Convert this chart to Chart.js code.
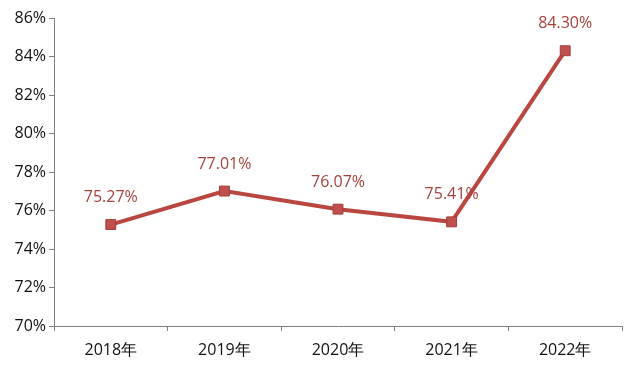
<!DOCTYPE html>
<html>
<head>
<meta charset="utf-8">
<script src="https://cdn.jsdelivr.net/npm/chart.js@4/dist/chart.umd.min.js"></script>
<style>
  html, body { margin: 0; padding: 0; background: #fff; }
  #wrap { width: 640px; height: 374px; }
</style>
</head>
<body>
<div id="wrap"><canvas id="c"></canvas></div>
<script>
const years = ['2018年', '2019年', '2020年', '2021年', '2022年'];
const rates = [75.27, 77.01, 76.07, 75.41, 84.30];
const yMin = 70, yMax = 86, yStep = 2;

// draw the value above each point
const valueLabels = {
  id: 'valueLabels',
  afterDatasetsDraw(chart) {
    const ctx = chart.ctx;
    const meta = chart.getDatasetMeta(0);
    ctx.save();
    ctx.font = '16px "Open Sans", "Liberation Sans", sans-serif';
    ctx.fillStyle = '#a8403c';
    ctx.textAlign = 'center';
    ctx.textBaseline = 'middle';
    meta.data.forEach((pt, i) => {
      ctx.fillText(rates[i].toFixed(2) + '%', pt.x, pt.y - 27);
    });
    ctx.restore();
  }
};

new Chart(document.getElementById('c'), {
  type: 'line',
  data: {
    labels: years,
    datasets: [{
      data: rates,
      borderColor: '#b9473f',
      borderWidth: 4,
      pointStyle: 'rect',
      pointRadius: 7,
      pointBackgroundColor: '#c0504d',
      pointBorderColor: '#a23e3a',
      pointBorderWidth: 1,
      tension: 0
    }]
  },
  options: {
    responsive: true,
    maintainAspectRatio: false,
    animation: false,
    layout: { padding: { top: 18, right: 18, left: 0, bottom: 0 } },
    plugins: { legend: { display: false }, tooltip: { enabled: false } },
    scales: {
      x: {
        offset: true,
        grid: { offset: true, drawOnChartArea: false, drawTicks: true, tickLength: 5, color: '#7f7f7f' },
        border: { color: '#7f7f7f', width: 1 },
        ticks: { color: '#111', padding: 10, font: { size: 16, family: '"Open Sans", "Liberation Sans", sans-serif' } },
        afterFit(s) { s.height = 48; }
      },
      y: {
        min: yMin,
        max: yMax,
        grid: { drawOnChartArea: false, drawTicks: true, tickLength: 5, color: '#7f7f7f' },
        border: { color: '#7f7f7f', width: 1 },
        ticks: {
          stepSize: yStep,
          color: '#111',
          padding: 3,
          font: { size: 16, family: '"Open Sans", "Liberation Sans", sans-serif' },
          callback: v => v + '%'
        },
        afterFit(s) { s.width = 54; }
      }
    }
  },
  plugins: [valueLabels]
});
</script>
</body>
</html>
